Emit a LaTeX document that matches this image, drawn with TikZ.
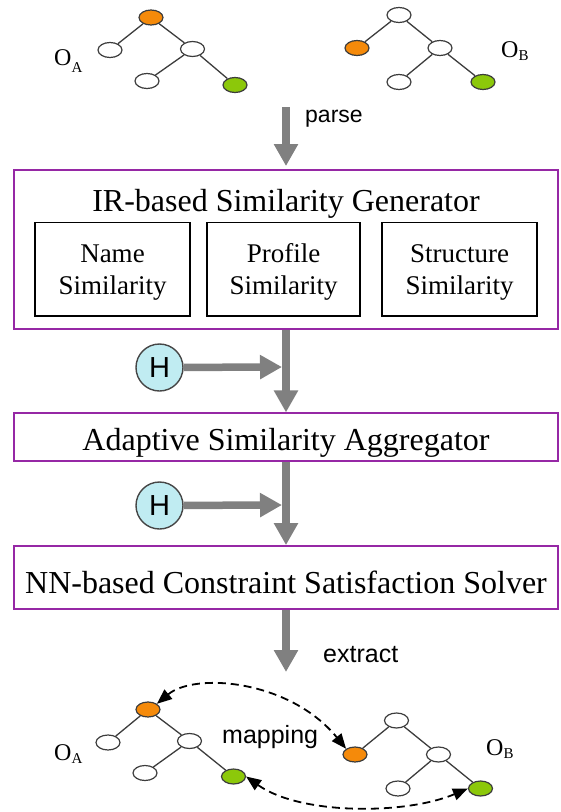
\documentclass[tikz,border=0pt]{standalone}
\usepackage{fontspec}
\setmainfont{Liberation Serif}
\newfontfamily\lsans{Liberation Sans}
\usetikzlibrary{shapes.geometric,arrows.meta}
\definecolor{boxpurple}{RGB}{150,40,165}
\definecolor{flowgray}{RGB}{128,128,128}
\definecolor{nodeorange}{RGB}{245,138,10}
\definecolor{nodegreen}{RGB}{140,200,10}
\definecolor{hfill}{RGB}{192,236,242}
\definecolor{hborder}{RGB}{70,70,70}
\definecolor{treeline}{RGB}{60,60,60}
\begin{document}
\begin{tikzpicture}[x=1pt,y=-1pt,
  tnode/.style={ellipse, draw=treeline, line width=1.2pt, fill=white, minimum width=24pt, minimum height=15pt, inner sep=0pt},
  onode/.style={tnode, fill=nodeorange},
  gnode/.style={tnode, fill=nodegreen},
  tedge/.style={draw=treeline, line width=1.3pt},
  mainbox/.style={draw=boxpurple, line width=1.8pt, minimum width=544pt, inner sep=0pt, font=\fontsize{32}{38}\selectfont},
  subbox/.style={draw=black, line width=1.4pt, minimum height=93.3pt, align=center, inner sep=0pt, text depth=0pt, font=\fontsize{27}{32}\selectfont},
  flow/.style={draw=flowgray, line width=7.5pt, -{Triangle[length=22pt,width=23pt]}},
  hcirc/.style={circle, draw=hborder, line width=1.4pt, fill=hfill, minimum size=47pt, inner sep=0pt, font=\lsans\fontsize{29}{29}\selectfont},
  sanslbl/.style={anchor=base west, inner sep=0pt, font=\lsans\fontsize{25}{30}\selectfont},
  olbl/.style={anchor=base west, inner sep=0pt, font=\fontsize{24}{28}\selectfont},
  maparrow/.style={draw=black, line width=1.8pt, dash pattern=on 8pt off 5pt, {Triangle[length=15pt,width=12pt]}-{Triangle[length=15pt,width=12pt]}}
]
\useasboundingbox (0,0) rectangle (561,812);

% ---------- top trees ----------
\node[onode] (ra1) at (151,17.5) {};
\node[tnode] (la1) at (110,50) {};
\node[tnode] (xa1) at (192.5,49) {};
\node[tnode] (rla1) at (147,81) {};
\node[gnode] (ga1) at (235,85) {};
\draw[tedge] (ra1) -- (la1);
\draw[tedge] (ra1) -- (xa1);
\draw[tedge] (xa1) -- (rla1);
\draw[tedge] (xa1) -- (ga1);

\node[tnode] (rb1) at (399,15) {};
\node[onode] (ob1) at (357,48) {};
\node[tnode] (xb1) at (440,48) {};
\node[tnode] (rlb1) at (399,82) {};
\node[gnode] (gb1) at (483,82) {};
\draw[tedge] (rb1) -- (ob1);
\draw[tedge] (rb1) -- (xb1);
\draw[tedge] (xb1) -- (rlb1);
\draw[tedge] (xb1) -- (gb1);

\node[olbl] (oa1) at (54,65) {O\raisebox{-7pt}{\fontsize{15}{15}\selectfont A}};
\node[olbl] (ob1lbl) at (501,57) {O\raisebox{-3pt}{\fontsize{15}{15}\selectfont B}};

% ---------- parse ----------
\coordinate (parsetop) at (286,107);
\node[sanslbl, font=\lsans\fontsize{23}{28}\selectfont] (parselbl) at (305,122.5) {parse};

% ---------- IR box ----------
\node[mainbox, minimum height=159.3pt] (ir) at (286,249.6) {};
\node[anchor=base, inner sep=0pt, font=\fontsize{32}{38}\selectfont] (irtitle) at (286,211.7) {IR-based Similarity Generator};
\node[subbox, minimum width=155pt] (namebox) at (112.5,269.4) {Name\\Similarity};
\node[subbox, minimum width=153pt] (profbox) at (283.5,269.4) {Profile\\Similarity};
\node[subbox, minimum width=155pt] (strucbox) at (459.5,269.4) {Structure\\Similarity};

\draw[flow, shorten >=3pt] (parsetop) -- (ir.north);

% ---------- aggregator ----------
\node[mainbox, minimum height=47.4pt, text height=26pt, text depth=0pt] (adapt) at (286,437) {Adaptive Similarity Aggregator};
\node[hcirc] (h1) at (159.5,367.5) {H};
\coordinate (j1) at (282,367);
\draw[flow] (h1) -- (j1);
\draw[flow] (ir.south) -- (adapt.north);

% ---------- solver ----------
\node[mainbox, minimum height=63pt, text height=31pt, text depth=0pt] (nn) at (286,577.5) {NN-based Constraint Satisfaction Solver};
\node[hcirc] (h2) at (159.5,505.5) {H};
\coordinate (j2) at (282,505);
\draw[flow] (h2) -- (j2);
\draw[flow] (adapt.south) -- (nn.north);

% ---------- extract ----------
\coordinate (extracttip) at (286,672);
\draw[flow] (nn.south) -- (extracttip);
\node[sanslbl] (extractlbl) at (323,662) {extract};

% ---------- bottom trees ----------
\node[onode] (ra2) at (148,709.5) {};
\node[tnode] (la2) at (108,742.5) {};
\node[tnode] (xa2) at (189.5,741) {};
\node[tnode] (rla2) at (145,773) {};
\node[gnode] (ga2) at (233.5,776.5) {};
\draw[tedge] (ra2) -- (la2);
\draw[tedge] (ra2) -- (xa2);
\draw[tedge] (xa2) -- (rla2);
\draw[tedge] (xa2) -- (ga2);

\node[tnode] (rb2) at (396.5,720.5) {};
\node[onode] (ob2) at (355,754.5) {};
\node[tnode] (xb2) at (438.5,754.5) {};
\node[tnode] (rlb2) at (398,788.5) {};
\node[gnode] (gb2) at (480.5,788.5) {};
\draw[tedge] (rb2) -- (ob2);
\draw[tedge] (rb2) -- (xb2);
\draw[tedge] (xb2) -- (rlb2);
\draw[tedge] (xb2) -- (gb2);

\node[olbl] (oa2) at (54,760) {O\raisebox{-3pt}{\fontsize{15}{15}\selectfont A}};
\node[olbl] (ob2lbl) at (486,755) {O\raisebox{-3pt}{\fontsize{15}{15}\selectfont B}};

\node[sanslbl] (maplbl) at (222,743) {mapping};

\draw[maparrow] (ra2.north east) .. controls (195,672) and (290,680) .. (ob2.north west);
\draw[maparrow] (ga2.east) .. controls (300,815) and (405,815) .. (gb2.west);
\end{tikzpicture}
\end{document}
